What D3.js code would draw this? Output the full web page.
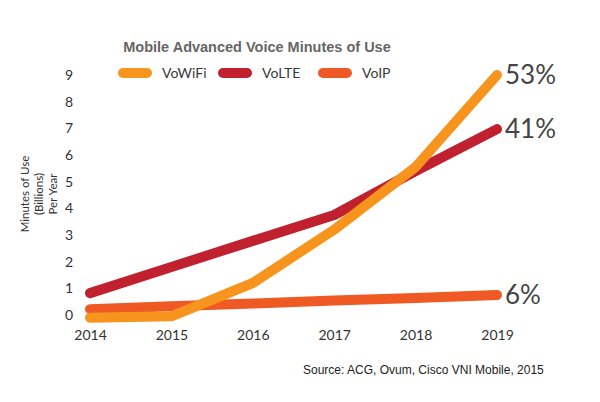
<!DOCTYPE html>
<html><head><meta charset="utf-8">
<script src="https://cdn.jsdelivr.net/npm/d3@7"></script>
<style>body{margin:0;background:#fff}svg{display:block}</style>
</head><body>
<svg id="c" width="600" height="402"></svg>
<script>
const years = [2014, 2015, 2016, 2017, 2018, 2019];
const vowifi = [-0.1, -0.05, 1.2, 3.2, 5.55, 9.0];
const volte = [0.82, 1.8, 2.78, 3.75, 5.4, 6.97];
const voip = [0.22, 0.33, 0.43, 0.54, 0.64, 0.75];
const seriesNames = ["VoWiFi", "VoLTE", "VoIP"];
const shareLabels = ["53%", "41%", "6%"];
const yTicks = [0,1,2,3,4,5,6,7,8,9];
const colors = ["#F7941D", "#C1202F", "#EF5A24"];
const title = "Mobile Advanced Voice Minutes of Use";
const source = "Source: ACG, Ovum, Cisco VNI Mobile, 2015";

const svg = d3.select("#c");
const x = d3.scaleLinear().domain([2014, 2019]).range([90, 497]);
const y = d3.scaleLinear().domain([0, 9]).range([315, 75]);

// title
svg.append("text").attr("x", 257).attr("y", 52).attr("text-anchor","middle")
  .attr("font-family","Liberation Sans, Arial, sans-serif").attr("font-weight","bold")
  .attr("font-size",14.5).attr("fill","#666").text(title);

// legend
const legX = [118, 218, 318];
seriesNames.forEach((n,i)=>{
  svg.append("rect").attr("x",legX[i]).attr("y",68).attr("width",34).attr("height",10)
    .attr("rx",5).attr("fill",colors[i]);
  svg.append("text").attr("x",legX[i]+44).attr("y",78).attr("font-family","Lato, sans-serif")
    .attr("font-size",14).attr("fill","#3a3a3a").text(n);
});

// y axis (labels only)
const yAxis = d3.axisLeft(y).tickValues(yTicks).tickSize(0).tickPadding(0);
const ya = svg.append("g").attr("transform","translate(74,0)").call(yAxis);
ya.select(".domain").remove();
ya.selectAll("text").attr("font-family","Lato, sans-serif").attr("font-size",14)
  .attr("fill","#333").attr("text-anchor","middle").attr("x",-5);

// x axis
const xAxis = d3.axisBottom(x).tickValues(years).tickFormat(d3.format("d")).tickSize(0).tickPadding(0);
const xa = svg.append("g").attr("transform","translate(0,330)").call(xAxis);
xa.select(".domain").remove();
xa.selectAll("text").attr("font-family","Lato, sans-serif").attr("font-size",14).attr("fill","#333");

// y title
const yt = svg.append("text").attr("transform","translate(39,194) rotate(-90)")
  .attr("text-anchor","middle").attr("font-family","Lato, sans-serif").attr("font-size",11.5).attr("fill","#333");
["Minutes of Use","(Billions)","Per Year"].forEach((t,i)=>{
  yt.append("tspan").attr("x",0).attr("y",(i-1)*14).attr("dy","0.35em").text(t);
});

// lines
const line = d3.line().x((d,i)=>x(years[i])).y(d=>y(d));
const data = [voip, volte, vowifi];
const colorOrder = [colors[2], colors[1], colors[0]];
data.forEach((s,i)=>{
  svg.append("path").attr("d", line(s)).attr("fill","none").attr("stroke",colorOrder[i])
    .attr("stroke-width",10).attr("stroke-linecap","round").attr("stroke-linejoin","round");
});

// share labels
const ends = [vowifi[5], volte[5], voip[5]];
shareLabels.forEach((t,i)=>{
  svg.append("text").attr("x", x(2019)+8).attr("y", y(ends[i])).attr("dy","0.35em")
    .attr("font-family","Lato, sans-serif").attr("font-size",26).attr("fill","#444").text(t);
});

// source
svg.append("text").attr("x",303).attr("y",374).attr("font-family","Liberation Sans, Arial, sans-serif")
  .attr("font-size",12).attr("fill","#222").text(source);
</script>
</body></html>
